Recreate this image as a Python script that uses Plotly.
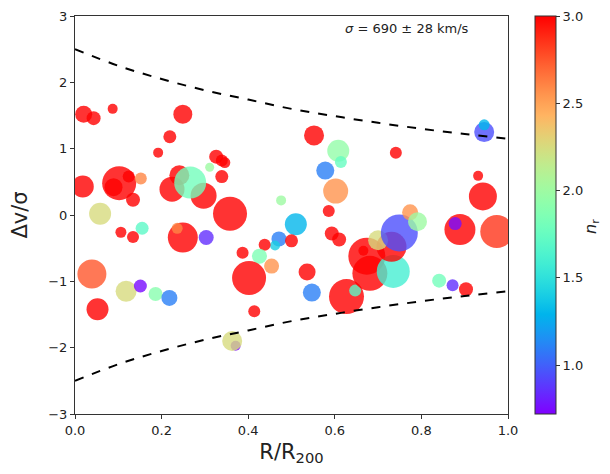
import numpy as np
import plotly.graph_objects as go

# ---- data ----
R = [0.020, 0.043, 0.087, 0.249, 0.219, 0.192, 0.326, 0.339, 0.346, 0.311,
     0.018, 0.102, 0.089, 0.124, 0.152, 0.134, 0.224, 0.241, 0.297, 0.266,
     0.339, 0.058, 0.358, 0.552, 0.608, 0.614, 0.578, 0.602, 0.586, 0.476,
     0.945, 0.945, 0.741, 0.931, 0.942, 0.106, 0.134, 0.155, 0.249, 0.236,
     0.303, 0.039, 0.118, 0.151, 0.186, 0.218, 0.052, 0.510, 0.593, 0.610,
     0.471, 0.462, 0.500, 0.438, 0.387, 0.426, 0.454, 0.402, 0.536, 0.547,
     0.414, 0.371, 0.363, 0.627, 0.647, 0.681, 0.674, 0.666, 0.735, 0.731,
     0.700, 0.749, 0.774, 0.791, 0.889, 0.878, 0.974, 0.841, 0.872, 0.903]
dv = [1.52, 1.46, 1.60, 1.52, 1.18, 0.94, 0.88, 0.82, 0.79, 0.72,
      0.43, 0.48, 0.42, 0.58, 0.55, 0.23, 0.39, 0.60, 0.29, 0.49,
      0.58, 0.02, 0.02, 1.20, 0.97, 0.80, 0.67, 0.36, 0.06, 0.22,
      1.25, 1.36, 0.94, 0.59, 0.28, -0.26, -0.33, -0.20, -0.34, -0.20,
      -0.34, -0.89, -1.15, -1.07, -1.19, -1.25, -1.42, -0.14, -0.28, -0.37,
      -0.36, -0.46, -0.39, -0.45, -0.57, -0.62, -0.77, -0.95, -0.86, -1.17,
      -1.45, -1.97, -1.90, -1.23, -1.14, -0.88, -0.62, -0.54, -0.85, -0.48,
      -0.38, -0.27, 0.04, -0.10, -0.22, -0.13, -0.25, -0.99, -1.06, -1.12]
n_r = [3.0, 3.0, 3.0, 3.0, 3.0, 3.0, 3.0, 3.0, 3.0, 2.0,
       3.0, 3.0, 3.0, 3.0, 2.6, 3.0, 3.0, 3.0, 3.0, 1.8,
       3.0, 2.25, 3.0, 3.0, 1.95, 1.75, 1.1, 2.55, 3.0, 2.0,
       0.95, 1.3, 3.0, 3.0, 3.0, 3.0, 3.0, 1.7, 3.0, 2.6,
       0.85, 2.75, 2.25, 0.75, 1.9, 1.1, 3.0, 1.3, 3.0, 3.0,
       1.1, 1.4, 3.0, 3.0, 3.0, 1.85, 2.55, 3.0, 3.0, 1.1,
       3.0, 0.75, 2.25, 3.0, 1.7, 3.0, 3.0, 3.0, 1.6, 3.0,
       2.25, 0.95, 2.55, 2.0, 3.0, 0.75, 2.85, 1.8, 0.85, 3.0]
mass = [17, 14, 10, 19, 13, 10, 14, 12, 11, 9,
        22, 34, 18, 12, 12, 14, 25, 20, 26, 32,
        13, 22, 34, 20, 22, 12, 18, 25, 12, 10,
        20, 11, 12, 10, 28, 11, 12, 13, 30, 11,
        15, 29, 21, 13, 14, 16, 22, 22, 14, 14,
        15, 10, 13, 12, 12, 15, 15, 34, 17, 18,
        12, 10, 20, 35, 12, 35, 37, 10, 33, 30,
        20, 37, 16, 19, 31, 13, 33, 14, 12, 14]

curve_R = [0.0, 0.1, 0.2, 0.3, 0.4, 0.5, 0.6, 0.7, 0.8, 0.9, 1.0]
curve_up = [2.50, 2.25, 2.05, 1.88, 1.74, 1.60, 1.49, 1.39, 1.30, 1.22, 1.15]
curve_lo = [-v for v in curve_up]

cb_ticks = [1.0, 1.5, 2.0, 2.5, 3.0]
x_ticks = [0.0, 0.2, 0.4, 0.6, 0.8, 1.0]
y_ticks = [-3, -2, -1, 0, 1, 2, 3]

# matplotlib "rainbow" colormap
def rainbow(t):
    r = min(1.0, abs(2 * t - 0.5))
    g = np.sin(np.pi * t)
    b = np.cos(np.pi * t / 2)
    return f"rgb({int(round(r*255))},{int(round(g*255))},{int(round(b*255))})"

cscale = [[float(t), rainbow(float(t))] for t in np.linspace(0, 1, 33)]

fig = go.Figure()
fig.add_trace(go.Scatter(
    x=R, y=dv, mode="markers", showlegend=False,
    marker=dict(size=mass, sizemode="diameter", color=n_r, cmin=0.72, cmax=3.0,
                colorscale=cscale, opacity=0.8, line=dict(width=0),
                colorbar=dict(x=1.062, xanchor="left", y=0.5, yanchor="middle",
                              len=1.0, lenmode="fraction", thickness=21,
                              xpad=0, ypad=0, outlinewidth=1, outlinecolor="#333",
                              tickvals=cb_ticks, ticktext=[f"{v:.1f}" for v in cb_ticks],
                              ticks="outside", ticklen=4, tickcolor="#333",
                              ticklabeloverflow="allow",
                              tickfont=dict(size=13, color="#222")))))
fig.add_trace(go.Scatter(x=curve_R, y=curve_up, mode="lines", showlegend=False,
                         line=dict(color="black", width=2, dash="dash", shape="spline")))
fig.add_trace(go.Scatter(x=curve_R, y=curve_lo, mode="lines", showlegend=False,
                         line=dict(color="black", width=2, dash="dash", shape="spline")))

fig.add_annotation(x=0.767, y=0.968, xref="paper", yref="paper", showarrow=False,
                   xanchor="center", yanchor="middle",
                   text="<i>σ</i> = 690 ± 28 km/s", font=dict(size=13, color="#222"))
fig.add_annotation(x=1.194, y=0.47, xref="paper", yref="paper", showarrow=False,
                   xanchor="center", yanchor="middle", textangle=-90,
                   text="<i>n</i><sub>r</sub>", font=dict(size=16, color="#222"))

fig.update_layout(
    width=594, height=458, margin=dict(l=67, r=94, t=8, b=52),
    plot_bgcolor="white", paper_bgcolor="white",
    font=dict(family="DejaVu Sans", color="#222"),
    xaxis=dict(range=[0, 1], tickvals=x_ticks, ticktext=[f"{v:.1f}" for v in x_ticks],
               ticks="outside", ticklen=4, tickcolor="#333", showgrid=False, zeroline=False,
               showline=True, linecolor="#333", linewidth=1, mirror=True, automargin=False,
               tickfont=dict(size=13),
               title=dict(text="R/R<sub>200</sub>", font=dict(size=21), standoff=8)),
    yaxis=dict(range=[-3, 3], tickvals=y_ticks, ticks="outside", ticklen=4, tickcolor="#333",
               showgrid=False, zeroline=False, showline=True, linecolor="#333", linewidth=1,
               mirror=True, tickfont=dict(size=13), ticklabeloverflow="allow", automargin=False,
               title=dict(text="Δv/σ", font=dict(size=21), standoff=15)),
)

fig.write_html("out.html")
